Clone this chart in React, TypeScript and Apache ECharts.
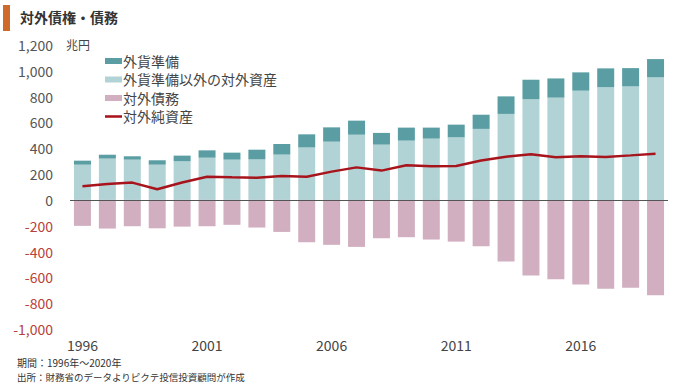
import React, { useEffect, useRef } from "react";
import * as echarts from "echarts";

const years = ["1996","1997","1998","1999","2000","2001","2002","2003","2004","2005","2006","2007","2008","2009","2010","2011","2012","2013","2014","2015","2016","2017","2018","2019"];
const reserves = [31, 30, 26, 34, 44, 57, 54, 75, 82, 101, 111, 109, 91, 101, 85, 98, 110, 136, 150, 149, 142, 145, 142, 142];
const otherAssets = [273, 320, 312, 273, 299, 327, 312, 314, 351, 407, 451, 505, 428, 459, 475, 485, 550, 666, 781, 792, 846, 874, 879, 949];
const liabilities = [-201, -222, -204, -220, -207, -204, -193, -214, -248, -328, -348, -364, -297, -289, -307, -323, -359, -478, -586, -614, -656, -689, -681, -738];
const netAssets = [105, 124, 134, 82, 135, 180, 175, 172, 186, 180, 219, 252, 227, 268, 260, 263, 305, 335, 353, 330, 338, 333, 345, 358];

const FONT = "'Noto Sans CJK JP', 'Noto Sans', sans-serif";

export default function App() {
  const ref = useRef<HTMLDivElement>(null);
  useEffect(() => {
    if (!ref.current) return;
    const chart = echarts.init(ref.current, null, { renderer: "svg" });
    chart.setOption({
      animation: false,
      textStyle: { fontFamily: FONT },
      grid: { left: 70, right: 12, top: 45, bottom: 59 },
      legend: {
        orient: "vertical",
        left: 100,
        top: 49,
        itemWidth: 17,
        itemHeight: 6,
        itemGap: 4.5,
        symbolKeepAspect: true,
        textStyle: { fontSize: 14, color: "#444", fontFamily: FONT, padding: [0, 0, 0, -4] },
        data: [
          { name: "外貨準備", icon: "rect" },
          { name: "外貨準備以外の対外資産", icon: "rect" },
          { name: "対外債務", icon: "rect" },
          { name: "対外純資産", icon: "path://M0,0H20V3H0Z", itemStyle: { color: "#a8141c" } },
        ],
      },
      xAxis: {
        type: "category",
        data: years,
        axisLine: { show: false, onZero: false },
        axisTick: { show: false },
        axisLabel: { interval: 4, color: "#444", fontSize: 14, margin: 9, fontFamily: FONT },
      },
      yAxis: {
        type: "value",
        min: -1000,
        max: 1200,
        interval: 200,
        splitLine: { show: false },
        axisLine: { show: false },
        axisTick: { show: false },
        axisLabel: {
          fontSize: 14,
          margin: 17,
          fontFamily: FONT,
          color: (v: any) => (Number(v) < 0 ? "#b8413a" : "#555"),
          formatter: (v: number) => v.toLocaleString("en-US"),
        },
      },
      series: [
        {
          name: "外貨準備以外の対外資産",
          type: "bar",
          stack: "a",
          barWidth: 17,
          data: otherAssets,
          itemStyle: { color: "#b2d3d5" },
          markLine: {
            silent: true,
            symbol: "none",
            label: { show: false },
            lineStyle: { color: "#555", width: 1, type: "solid" },
            data: [{ yAxis: 0 }],
          },
        },
        {
          name: "外貨準備",
          type: "bar",
          stack: "a",
          barWidth: 17,
          data: reserves,
          itemStyle: { color: "#5a9ea4" },
        },
        {
          name: "対外債務",
          type: "bar",
          stack: "a",
          barWidth: 17,
          data: liabilities,
          itemStyle: { color: "#d1afc0" },
        },
        {
          name: "対外純資産",
          type: "line",
          data: netAssets,
          symbol: "none",
          lineStyle: { color: "#a8141c", width: 2.5 },
          itemStyle: { color: "#a8141c" },
          z: 5,
        },
      ],
      graphic: [
        { type: "rect", left: 3, top: 5, shape: { width: 7, height: 26 }, style: { fill: "#cf6a2d" } },
        { type: "text", left: 20, top: 10, style: { text: "対外債権・債務", fontSize: 14, fontWeight: "bold", fill: "#333", fontFamily: FONT } },
        { type: "text", left: 66, top: 38, style: { text: "兆円", fontSize: 12, fill: "#444", fontFamily: FONT } },
        { type: "text", left: 17, top: 357, style: { text: "期間：1996年～2020年", fontSize: 10, fill: "#333", fontFamily: FONT } },
        { type: "text", left: 17, top: 372, style: { text: "出所：財務省のデータよりピクテ投信投資顧問が作成", fontSize: 9.5, fill: "#333", fontFamily: FONT } },
      ],
    });
    return () => chart.dispose();
  }, []);
  return <div ref={ref} style={{ position: "fixed", left: 0, top: 0, width: 680, height: 388, background: "#fff" }} />;
}
